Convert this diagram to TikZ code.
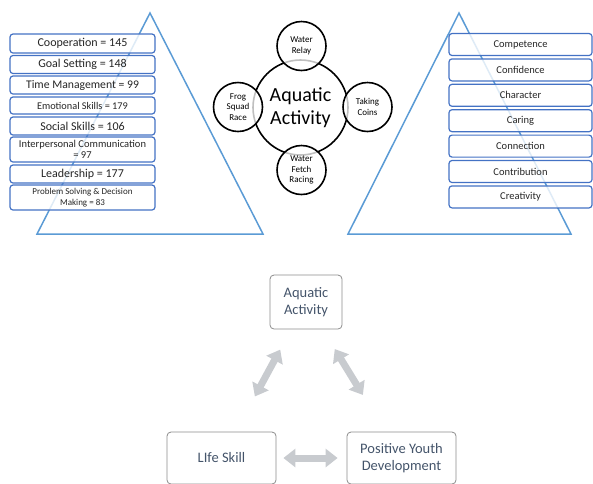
\documentclass[tikz,border=0pt]{standalone}
\usepackage{fontspec}
\setmainfont{Carlito}
\usetikzlibrary{arrows.meta}
\definecolor{boxblue}{RGB}{68,114,196}
\definecolor{triblue}{RGB}{91,155,213}
\definecolor{slate}{RGB}{68,84,106}
\definecolor{arrgray}{RGB}{200,203,207}
\definecolor{txt}{RGB}{38,38,38}

\begin{document}
\begin{tikzpicture}[x=1pt, y=-1pt, font=\fontsize{11}{12}\selectfont,
  skillbox/.style={draw=boxblue, line width=1.2pt, rounded corners=3pt, fill=white,
    fill opacity=0.8, text opacity=1, text=txt, inner sep=0pt, align=center,
    minimum width=145pt},
  pydbox/.style={skillbox, minimum width=143pt, minimum height=22pt,
    font=\fontsize{10.5}{12}\selectfont},
  ring/.style={circle, draw=black, line width=1.6pt, fill=white, fill opacity=0.75,
    text opacity=1, inner sep=0pt, align=center, minimum size=49pt,
    font=\fontsize{9}{10.5}\selectfont},
  modelbox/.style={draw=black!45, line width=0.8pt, rounded corners=4pt, text=slate, align=center,
    font=\fontsize{14.5}{17}\selectfont, inner sep=0pt},
  bigarrow/.style={arrgray, line width=7pt,
    {Triangle[width=18pt,length=12pt]}-{Triangle[width=18pt,length=12pt]}}]
  \useasboundingbox (0,0) rectangle (593,483);

  % two pyramids
  \draw[triblue, line width=1.5pt] (150,13) -- (263,234) -- (37,234) -- cycle;
  \draw[triblue, line width=1.5pt] (459,13) -- (571,234) -- (348,234) -- cycle;

  % life skills
  \node[skillbox, minimum height=19pt, font=\fontsize{12}{13}\selectfont] (coop) at (82.5,43.5) {Cooperation = 145};
  \node[skillbox, minimum height=18pt, font=\fontsize{12}{13}\selectfont] (goal) at (82.5,64.5) {Goal Setting = 148};
  \node[skillbox, minimum height=18pt, font=\fontsize{11.7}{13}\selectfont] (time) at (82.5,85) {Time Management = 99};
  \node[skillbox, minimum height=17pt, font=\fontsize{10.3}{12}\selectfont] (emot) at (82.5,105.5) {Emotional Skills = 179};
  \node[skillbox, minimum height=18pt, font=\fontsize{12}{13}\selectfont] (social) at (82.5,126) {Social Skills = 106};
  \node[skillbox, minimum height=25pt, font=\fontsize{10.5}{11}\selectfont] (inter) at (82.5,149.5) {Interpersonal Communication\\= 97};
  \node[skillbox, minimum height=18pt, font=\fontsize{12}{13}\selectfont] (lead) at (82.5,174) {Leadership = 177};
  \node[skillbox, minimum height=25pt, font=\fontsize{9}{10.5}\selectfont] (prob) at (82.5,197.5) {Problem Solving \& Decision\\Making = 83};

  % the 7 Cs
  \foreach \c [count=\i from 0] in {Competence,Confidence,Character,Caring,Connection,Contribution,Creativity}
    \node[pydbox] (pyd\i) at (520.5,44.5+25.4*\i) {\c};

  % activities
  \node[circle, draw=black, line width=1.6pt, minimum size=95pt, inner sep=0pt, align=center,
    font=\fontsize{20}{23}\selectfont] (act) at (300.5,107.5) {Aquatic\\Activity};
  \node[ring] (relay) at (301.5,46) {Water\\Relay};
  \node[ring] (frog) at (238,107) {Frog\\Squad\\Race};
  \node[ring] (coins) at (367.5,107) {Taking\\Coins};
  \node[ring] (fetch) at (301.5,170) {Water\\Fetch\\Racing};

  % model
  \node[modelbox, minimum width=72pt, minimum height=54pt] (aq) at (306,302) {Aquatic\\Activity};
  \node[modelbox, minimum width=109pt, minimum height=52pt] (ls) at (221.5,458) {LIfe Skill};
  \node[modelbox, minimum width=109pt, minimum height=52pt] (pyd) at (401.5,458) {Positive Youth\\Development};
  \draw[bigarrow, shorten <=23pt, shorten >=40pt] (aq) -- (ls);
  \draw[bigarrow, shorten <=23pt, shorten >=43pt] (aq) -- (pyd);
  \draw[bigarrow, shorten <=7pt, shorten >=9pt] (ls) -- (pyd);
\end{tikzpicture}
\end{document}
